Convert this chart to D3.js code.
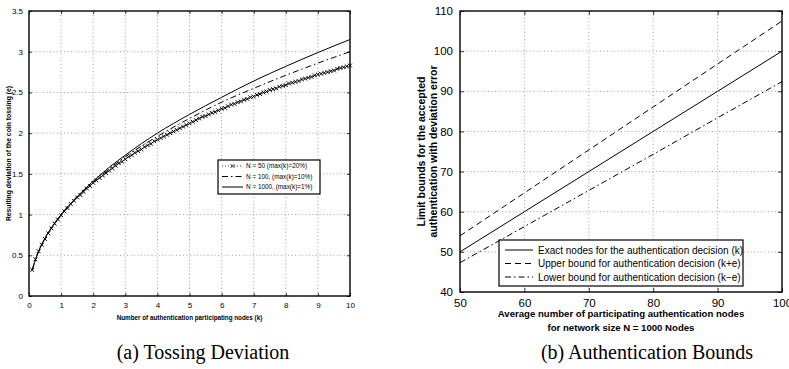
<!DOCTYPE html>
<html>
<head>
<meta charset="utf-8">
<script src="https://cdn.jsdelivr.net/npm/d3@7"></script>
<style>
  body { margin: 0; background: #fff; }
  svg { display: block; }
</style>
</head>
<body>
<svg id="chart" width="789" height="369"></svg>
<script>
// ---- panel (a): tossing deviation ----
const kMarks = [
  0.1, 0.2, 0.3, 0.4, 0.5, 0.6, 0.7, 0.8, 0.9, 1.0,
  1.1, 1.2, 1.3, 1.4, 1.5, 1.6, 1.7, 1.8, 1.9, 2.0,
  2.1, 2.2, 2.3, 2.4, 2.5, 2.6, 2.7, 2.8, 2.9, 3.0,
  3.1, 3.2, 3.3, 3.4, 3.5, 3.6, 3.7, 3.8, 3.9, 4.0,
  4.1, 4.2, 4.3, 4.4, 4.5, 4.6, 4.7, 4.8, 4.9, 5.0,
  5.1, 5.2, 5.3, 5.4, 5.5, 5.6, 5.7, 5.8, 5.9, 6.0,
  6.1, 6.2, 6.3, 6.4, 6.5, 6.6, 6.7, 6.8, 6.9, 7.0,
  7.1, 7.2, 7.3, 7.4, 7.5, 7.6, 7.7, 7.8, 7.9, 8.0,
  8.1, 8.2, 8.3, 8.4, 8.5, 8.6, 8.7, 8.8, 8.9, 9.0,
  9.1, 9.2, 9.3, 9.4, 9.5, 9.6, 9.7, 9.8, 9.9, 10.0
];
const devN50 = [
  0.32, 0.45, 0.55, 0.63, 0.70, 0.77, 0.83, 0.89, 0.94, 0.99,
  1.04, 1.08, 1.13, 1.17, 1.21, 1.24, 1.28, 1.32, 1.35, 1.39,
  1.42, 1.45, 1.48, 1.51, 1.54, 1.57, 1.60, 1.63, 1.65, 1.68,
  1.71, 1.73, 1.76, 1.78, 1.80, 1.83, 1.85, 1.87, 1.90, 1.92,
  1.94, 1.96, 1.98, 2.00, 2.02, 2.04, 2.06, 2.08, 2.10, 2.12,
  2.14, 2.16, 2.18, 2.20, 2.21, 2.23, 2.25, 2.26, 2.28, 2.30,
  2.31, 2.33, 2.35, 2.36, 2.38, 2.39, 2.41, 2.42, 2.44, 2.45,
  2.47, 2.48, 2.50, 2.51, 2.53, 2.54, 2.55, 2.57, 2.58, 2.59,
  2.61, 2.62, 2.63, 2.64, 2.66, 2.67, 2.68, 2.69, 2.71, 2.72,
  2.73, 2.74, 2.75, 2.76, 2.77, 2.79, 2.80, 2.81, 2.82, 2.83
];
const kLine = [0.1, 0.25, 0.5, 0.75, 1, 1.5, 2, 2.5, 3, 4, 5, 6, 7, 8, 9, 10];
const devN100 = [0.32, 0.50, 0.71, 0.86, 1.00, 1.22, 1.40, 1.56, 1.71, 1.96, 2.18, 2.38, 2.55, 2.71, 2.86, 3.00];
const devN1000 = [0.32, 0.50, 0.71, 0.87, 1.00, 1.22, 1.41, 1.58, 1.73, 2.00, 2.23, 2.44, 2.64, 2.82, 2.99, 3.15];
const ticksAx = [0, 1, 2, 3, 4, 5, 6, 7, 8, 9, 10];
const ticksAy = [0, 0.5, 1, 1.5, 2, 2.5, 3, 3.5];
const legendA = ['N = 50 (max(k)=20%)', 'N = 100, (max(k)=10%)', 'N = 1000, (max(k)=1%)'];

// ---- panel (b): authentication bounds ----
const kAvg = [50, 60, 70, 80, 90, 100];
const boundExact = [50, 60, 70, 80, 90, 100];
const boundUpper = [54, 64.7, 75.4, 86.1, 96.8, 107.5];
const boundLower = [47.3, 56.3, 65.3, 74.3, 83.4, 92.4];
const ticksBx = [50, 60, 70, 80, 90, 100];
const ticksBy = [40, 50, 60, 70, 80, 90, 100, 110];
const legendB = [
  'Exact nodes for the authentication decision (k)',
  'Upper bound for authentication decision (k+e)',
  'Lower bound for authentication decision (k\u2212e)'
];

const svg = d3.select('#chart');
const SANS = 'Liberation Sans, Arial, Helvetica, sans-serif';
const DASHDOT = '6,3,1.5,3';

// draws box, dotted grid, inward ticks on all four sides and tick labels
function drawFrame(x, y, xTicks, yTicks, fontSize, tickLen) {
  const [x0, x1] = x.range();
  const [y0, y1] = y.range();
  const g = svg.append('g');

  g.selectAll('.gx').data(xTicks.slice(1, -1)).enter().append('line')
    .attr('x1', d => x(d)).attr('x2', d => x(d))
    .attr('y1', y0).attr('y2', y1)
    .attr('stroke', '#777').attr('stroke-width', 0.7)
    .attr('stroke-dasharray', '1,2.5');
  g.selectAll('.gy').data(yTicks.slice(1, -1)).enter().append('line')
    .attr('x1', x0).attr('x2', x1)
    .attr('y1', d => y(d)).attr('y2', d => y(d))
    .attr('stroke', '#777').attr('stroke-width', 0.7)
    .attr('stroke-dasharray', '1,2.5');

  const bottom = g.append('g').attr('transform', `translate(0,${y0})`)
    .call(d3.axisBottom(x).tickValues(xTicks).tickFormat(d => d)
      .tickSizeInner(-tickLen).tickSizeOuter(0).tickPadding(tickLen + 3));
  const left = g.append('g').attr('transform', `translate(${x0},0)`)
    .call(d3.axisLeft(y).tickValues(yTicks).tickFormat(d => d)
      .tickSizeInner(-tickLen).tickSizeOuter(0).tickPadding(tickLen + 3));
  g.append('g').attr('transform', `translate(0,${y1})`)
    .call(d3.axisTop(x).tickValues(xTicks).tickFormat('')
      .tickSizeInner(-tickLen).tickSizeOuter(0));
  g.append('g').attr('transform', `translate(${x1},0)`)
    .call(d3.axisRight(y).tickValues(yTicks).tickFormat('')
      .tickSizeInner(-tickLen).tickSizeOuter(0));

  g.selectAll('.domain').remove();
  g.selectAll('.tick line').attr('stroke', '#000').attr('stroke-width', 0.8);
  [bottom, left].forEach(a => a.selectAll('text')
    .attr('font-family', SANS).attr('font-size', fontSize).attr('fill', '#000'));

  g.append('rect')
    .attr('x', x0).attr('y', y1)
    .attr('width', x1 - x0).attr('height', y0 - y1)
    .attr('fill', 'none').attr('stroke', '#000').attr('stroke-width', 1.4);
  return g;
}

// ===== panel (a) =====
const xA = d3.scaleLinear().domain([0, 10]).range([29, 350]);
const yA = d3.scaleLinear().domain([0, 3.5]).range([296, 11]);
drawFrame(xA, yA, ticksAx, ticksAy, 8, 3);

const lineA = d3.line().x(d => xA(d[0])).y(d => yA(d[1])).curve(d3.curveMonotoneX);

svg.append('path').datum(d3.zip(kLine, devN1000))
  .attr('d', lineA).attr('fill', 'none').attr('stroke', '#000').attr('stroke-width', 1);
svg.append('path').datum(d3.zip(kLine, devN100))
  .attr('d', lineA).attr('fill', 'none').attr('stroke', '#000').attr('stroke-width', 1)
  .attr('stroke-dasharray', DASHDOT);
svg.append('path').datum(d3.zip(kMarks, devN50))
  .attr('d', lineA).attr('fill', 'none').attr('stroke', '#000').attr('stroke-width', 0.9)
  .attr('stroke-dasharray', '1,2');

const cross = 'M-1.9,-1.9L1.9,1.9M-1.9,1.9L1.9,-1.9';
svg.append('g').selectAll('path').data(d3.zip(kMarks, devN50)).enter().append('path')
  .attr('transform', d => `translate(${xA(d[0])},${yA(d[1])})`)
  .attr('d', cross).attr('stroke', '#000').attr('stroke-width', 1);

svg.append('text')
  .attr('transform', `translate(9,${(yA.range()[0] + yA.range()[1]) / 2}) rotate(-90)`)
  .attr('text-anchor', 'middle').attr('dominant-baseline', 'middle')
  .attr('font-family', SANS).attr('font-weight', 'bold').attr('font-size', 6.8)
  .text('Resulting deviation of the coin tossing (e)');
svg.append('text')
  .attr('x', (xA.range()[0] + xA.range()[1]) / 2).attr('y', 320)
  .attr('text-anchor', 'middle')
  .attr('font-family', SANS).attr('font-weight', 'bold').attr('font-size', 6.3)
  .text('Number of authentication participating nodes (k)');

// legend (a)
const legA = svg.append('g').attr('transform', 'translate(218,160)');
legA.append('rect').attr('width', 102).attr('height', 34)
  .attr('fill', '#fff').attr('stroke', '#000').attr('stroke-width', 1.2);
const dashA = ['1,2', DASHDOT, null];
legendA.forEach((label, i) => {
  const ry = 6 + i * 10.5;
  legA.append('line').attr('x1', 4).attr('x2', 25).attr('y1', ry).attr('y2', ry)
    .attr('stroke', '#000').attr('stroke-width', i === 0 ? 0.8 : 1)
    .attr('stroke-dasharray', dashA[i]);
  if (i === 0) {
    legA.append('path').attr('transform', `translate(14.5,${ry})`)
      .attr('d', cross).attr('stroke', '#000').attr('stroke-width', 0.8);
  }
  legA.append('text').attr('x', 28).attr('y', ry).attr('dy', '0.35em')
    .attr('font-family', SANS).attr('font-size', 6.4).text(label);
});

// ===== panel (b) =====
const xB = d3.scaleLinear().domain([50, 100]).range([460, 782]);
const yB = d3.scaleLinear().domain([40, 110]).range([292, 11]);
drawFrame(xB, yB, ticksBx, ticksBy, 11.5, 4);

const lineB = d3.line().x(d => xB(d[0])).y(d => yB(d[1]));
const seriesB = [
  { vals: boundExact, dash: null },
  { vals: boundUpper, dash: '6,4' },
  { vals: boundLower, dash: DASHDOT }
];
seriesB.forEach(s => {
  svg.append('path').datum(d3.zip(kAvg, s.vals))
    .attr('d', lineB).attr('fill', 'none').attr('stroke', '#000').attr('stroke-width', 1)
    .attr('stroke-dasharray', s.dash);
});

const yLabB = svg.append('text')
  .attr('transform', `translate(421,${(yB.range()[0] + yB.range()[1]) / 2}) rotate(-90)`)
  .attr('text-anchor', 'middle')
  .attr('font-family', SANS).attr('font-weight', 'bold').attr('font-size', 10.5);
yLabB.append('tspan').attr('x', 0).attr('y', 4).text('Limit bounds for the accepted');
yLabB.append('tspan').attr('x', 0).attr('y', 16).text('authentication with deviation error');

const xLabB = svg.append('text')
  .attr('text-anchor', 'middle')
  .attr('font-family', SANS).attr('font-weight', 'bold').attr('font-size', 9.6);
xLabB.append('tspan').attr('x', (xB.range()[0] + xB.range()[1]) / 2).attr('y', 317)
  .text('Average number of participating authentication nodes');
xLabB.append('tspan').attr('x', (xB.range()[0] + xB.range()[1]) / 2).attr('y', 331)
  .text('for network size N = 1000 Nodes');

// legend (b)
const legB = svg.append('g').attr('transform', 'translate(499,240)');
legB.append('rect').attr('width', 244).attr('height', 46)
  .attr('fill', '#fff').attr('stroke', '#000').attr('stroke-width', 1.2);
legendB.forEach((label, i) => {
  const ry = 10 + i * 13.5;
  legB.append('line').attr('x1', 6).attr('x2', 34).attr('y1', ry).attr('y2', ry)
    .attr('stroke', '#000').attr('stroke-width', 1)
    .attr('stroke-dasharray', seriesB[i].dash);
  legB.append('text').attr('x', 39).attr('y', ry).attr('dy', '0.35em')
    .attr('font-family', SANS).attr('font-size', 10).text(label);
});

// captions
const SERIF = 'Liberation Serif, DejaVu Serif, serif';
svg.append('text').attr('x', 203).attr('y', 359).attr('text-anchor', 'middle')
  .attr('font-family', SERIF).attr('font-size', 20).text('(a) Tossing Deviation');
svg.append('text').attr('x', 647).attr('y', 359).attr('text-anchor', 'middle')
  .attr('font-family', SERIF).attr('font-size', 20).text('(b) Authentication Bounds');
</script>
</body>
</html>
